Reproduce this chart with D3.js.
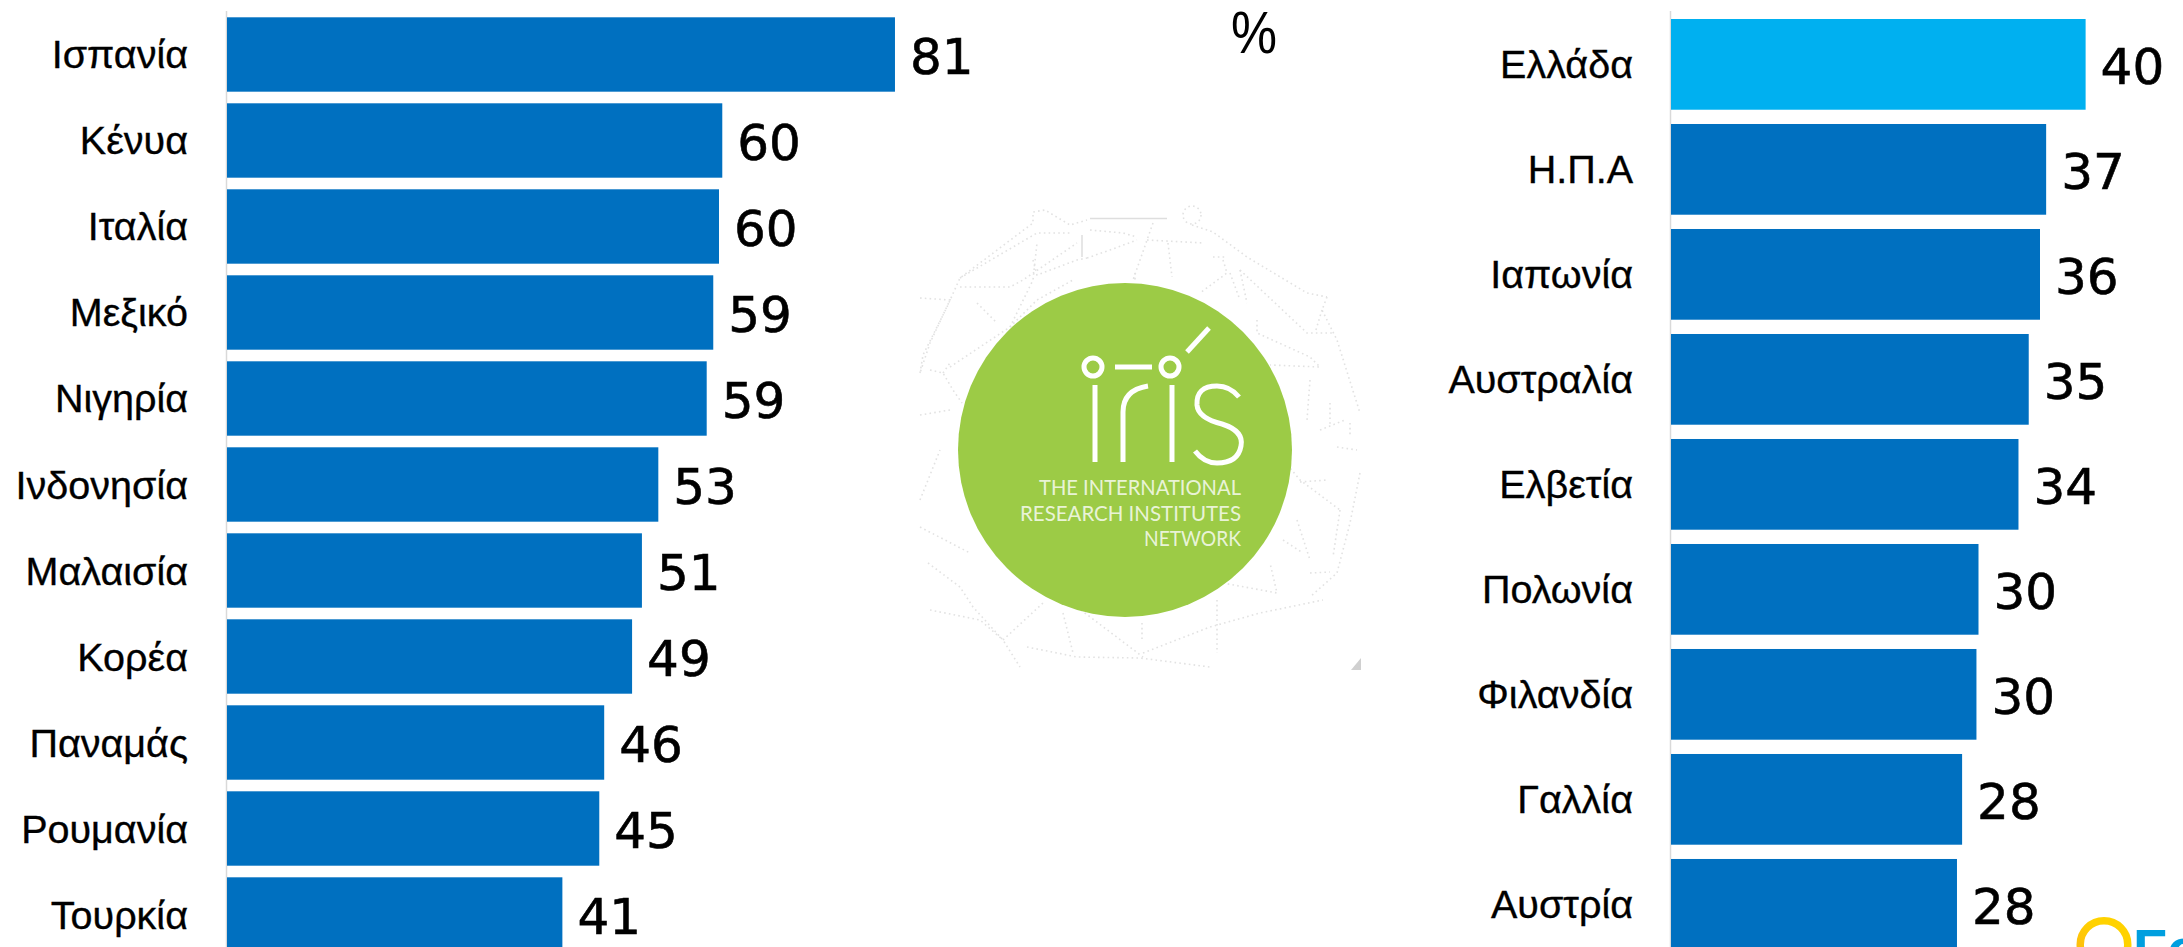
<!DOCTYPE html>
<html><head><meta charset="utf-8">
<style>html,body{margin:0;padding:0;background:#fff;overflow:hidden}svg{display:block}</style>
<script src="https://cdn.jsdelivr.net/npm/d3@7"></script>
</head><body><svg id="c" width="2183" height="947"></svg>
<script>
const leftCategories = ["Ισπανία","Κένυα","Ιταλία","Μεξικό","Νιγηρία","Ινδονησία","Μαλαισία","Κορέα","Παναμάς","Ρουμανία","Τουρκία"];
const leftValues = [81.46,60.4,60.0,59.3,58.5,52.6,50.6,49.4,46.0,45.4,40.9];
const rightCategories = ["Ελλάδα","Η.Π.Α","Ιαπωνία","Αυστραλία","Ελβετία","Πολωνία","Φιλανδία","Γαλλία","Αυστρία"];
const rightValues = [40.45,36.6,36.0,34.9,33.9,30.0,29.8,28.4,27.9];
const highlighted = ["Ελλάδα"];
const unitTitle = "%";
const logoLines = ["THE INTERNATIONAL","RESEARCH INSTITUTES","NETWORK"];
const logoLineWidths = [202,221,97];
const webLines = [
 [[920,373],[923,355],[947,307],[960,278],[1033,223],[1033,212],[1045,210],[1070,225],[1087,220]],
 [[920,298],[950,300],[930,343],[920,373]],
 [[960,287],[1010,287],[1023,280],[1077,243]],
 [[977,303],[997,323]],
 [[930,370],[943,373],[953,390],[962,403]],
 [[943,373],[950,363]],
 [[950,367],[1010,327],[1037,300],[1073,280]],
 [[1010,327],[1033,280],[1037,243]],
 [[1033,260],[1037,275],[1077,260],[1087,258]],
 [[1090,230],[1123,233],[1137,237]],
 [[1087,258],[1110,250],[1137,240]],
 [[1135,273],[1135,282]],
 [[960,278],[1037,233],[1070,233]],
 [[1192,225],[1213,232],[1247,257],[1307,293],[1327,297]],
 [[1327,297],[1322,310],[1337,340],[1360,413]],
 [[1322,310],[1315,333]],
 [[1240,270],[1307,333],[1333,333]],
 [[1223,260],[1227,273],[1200,293]],
 [[1240,270],[1247,303]],
 [[1230,273],[1240,300]],
 [[1257,320],[1257,333],[1310,357],[1320,367],[1270,365]],
 [[1310,380],[1307,420]],
 [[1330,403],[1330,427]],
 [[1350,423],[1350,437]],
 [[1147,240],[1203,243]],
 [[1168,243],[1172,277]],
 [[1153,223],[1133,280]],
 [[1213,257],[1227,257]],
 [[920,500],[940,450]],
 [[920,527],[970,553]],
 [[928,563],[960,587],[973,607],[1003,640],[1020,667]],
 [[930,610],[980,620],[1003,640]],
 [[1003,640],[1043,603]],
 [[1027,647],[1077,657],[1140,658],[1210,667]],
 [[1063,613],[1073,653]],
 [[1077,607],[1143,657]],
 [[1142,623],[1142,640]],
 [[1143,653],[1210,627],[1260,613],[1323,600]],
 [[1217,600],[1217,653]],
 [[1223,583],[1277,593],[1270,563]],
 [[1300,482],[1327,480]],
 [[1337,447],[1357,450]],
 [[1360,473],[1350,523],[1337,573],[1310,597]],
 [[1297,520],[1310,560]],
 [[1340,510],[1333,557]],
 [[1310,573],[1330,572]],
 [[1283,540],[1303,553]],
 [[920,415],[950,410]],
 [[1275,450],[1300,480],[1340,510]],
 [[1320,430],[1345,420]]
];

const svg = d3.select("#c");
const fmt = d3.format(".0f");
function panel(cats, vals, o){
  const x = d3.scaleLinear().domain([0,1]).range([o.x0, o.x0+o.unit]);
  const y = d3.scaleBand().domain(cats).range([o.y0,o.y1]).paddingInner(o.pad).paddingOuter(0);
  const g = svg.append("g");
  g.append("line").attr("x1",o.x0-.5).attr("x2",o.x0-.5).attr("y1",11).attr("y2",947).attr("stroke","#d9d9d9").attr("stroke-width",1.5);
  g.selectAll("rect").data(cats).join("rect")
    .attr("x",o.x0).attr("y",d=>y(d)).attr("height",y.bandwidth())
    .attr("width",(d,i)=>x(vals[i])-o.x0)
    .attr("fill",d=>highlighted.includes(d)?"#00b0f0":"#0070c0");
  g.selectAll("text.cat").data(cats).join("text").attr("class","cat")
    .attr("x",o.labelX).attr("y",d=>y(d)+y.bandwidth()/2).attr("dy",o.catDy)
    .attr("text-anchor","end").attr("font-family","'Liberation Sans'").attr("font-size",o.catSize).attr("fill","#000")
    .attr("stroke","#000").attr("stroke-width",.35)
    .text(d=>d);
  g.selectAll("text.val").data(cats).join("text").attr("class","val")
    .attr("x",(d,i)=>x(vals[i])+15).attr("y",d=>y(d)+y.bandwidth()/2).attr("dy",o.valDy)
    .attr("font-family","'DejaVu Sans'").attr("font-size",o.valSize).attr("fill","#000")
    .attr("stroke","#000").attr("stroke-width",.6)
    .text((d,i)=>fmt(vals[i]));
}
panel(leftCategories,leftValues,{x0:227,unit:8.2,y0:17.3,y1:951.7,pad:0.135,labelX:188,catSize:39.5,catDy:14,valSize:50,valDy:19.5});
panel(rightCategories,rightValues,{x0:1671,unit:10.25,y0:19,y1:949.7,pad:0.136,labelX:1633,catSize:39.5,catDy:14,valSize:50,valDy:19.5});

svg.append("text").attr("x",1231).attr("y",53).attr("font-family","'Liberation Sans'").attr("font-size",60)
  .attr("textLength",46).attr("lengthAdjust","spacingAndGlyphs").text(unitTitle);

// logo
const logo = svg.append("g");
logo.append("g").attr("fill","none").attr("stroke","#e2e2e2").attr("stroke-width",1.6).attr("stroke-dasharray","1.6 3.2")
  .selectAll("path").data(webLines).join("path").attr("d",d3.line());
logo.append("circle").attr("cx",1192).attr("cy",215).attr("r",9).attr("fill","none").attr("stroke","#e2e2e2").attr("stroke-width",1.6).attr("stroke-dasharray","1.6 3.2");
logo.append("line").attr("x1",1090).attr("x2",1167).attr("y1",218.5).attr("y2",218.5).attr("stroke","#dedede").attr("stroke-width",1.5);
logo.append("line").attr("x1",1082).attr("x2",1082).attr("y1",235).attr("y2",257).attr("stroke","#dedede").attr("stroke-width",1.5);
logo.append("path").attr("d","M1361 658L1351 670H1361Z").attr("fill","#d0d0d0");
logo.append("circle").attr("cx",1125).attr("cy",450).attr("r",167).attr("fill","#9ccb46");
const w = logo.append("g").attr("stroke","#fff").attr("fill","none").attr("stroke-width",5);
w.append("circle").attr("cx",1093).attr("cy",367).attr("r",9);
w.append("circle").attr("cx",1170).attr("cy",367).attr("r",9);
w.append("line").attr("x1",1115).attr("x2",1152).attr("y1",367).attr("y2",367);
w.append("line").attr("x1",1187).attr("y1",352).attr("x2",1209).attr("y2",328);
w.append("line").attr("x1",1095).attr("x2",1095).attr("y1",385).attr("y2",462);
w.append("path").attr("d","M1123 462V412Q1123 390 1148 386");
w.append("line").attr("x1",1172).attr("x2",1172).attr("y1",385).attr("y2",462);
w.append("path").attr("d","M1239 397Q1230 386 1217 386Q1196 386 1197 405Q1198 418 1222 424Q1244 431 1241 446Q1238 463 1217 463Q1204 463 1195 451");
logo.selectAll("text").data(logoLines).join("text")
  .attr("x",1241).attr("y",(d,i)=>495+i*25.5).attr("text-anchor","end")
  .attr("textLength",(d,i)=>logoLineWidths[i]).attr("lengthAdjust","spacingAndGlyphs")
  .attr("font-family","Lato").attr("font-size",21).attr("fill","#fff").attr("fill-opacity",.8).text(d=>d);

// Fo logo
const grad = svg.append("defs").append("linearGradient").attr("id","ring").attr("x1",0).attr("x2",1).attr("y1",1).attr("y2",0);
grad.append("stop").attr("offset",0).attr("stop-color","#fdb515");
grad.append("stop").attr("offset",.6).attr("stop-color","#ffd200");
svg.append("circle").attr("cx",2104).attr("cy",944.5).attr("r",23.75).attr("fill","none").attr("stroke","url(#ring)").attr("stroke-width",7.5);
svg.append("text").attr("x",2133).attr("y",968).attr("font-family","'Liberation Sans'").attr("font-weight","bold").attr("font-size",56).attr("fill","#009fdf").text("Fo");
</script></body></html>
